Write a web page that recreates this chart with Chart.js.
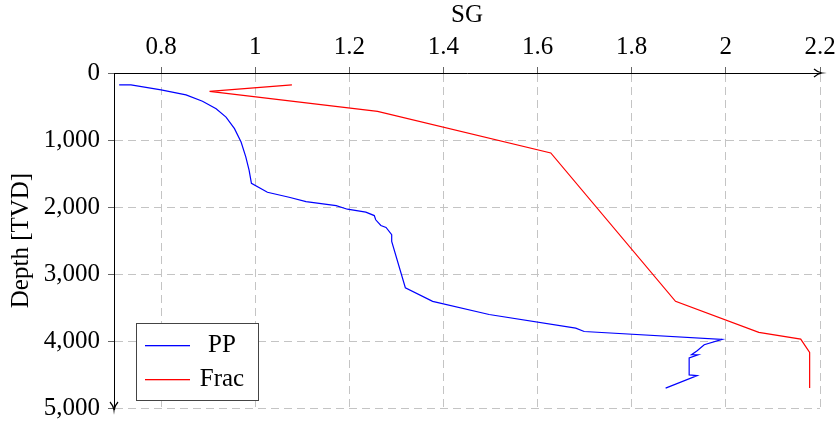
<!DOCTYPE html>
<html>
<head>
<meta charset="utf-8">
<script src="https://cdn.jsdelivr.net/npm/chart.js@4/dist/chart.umd.min.js"></script>
<style>
  html, body { margin: 0; padding: 0; background: #fff; }
  #wrap { width: 840px; height: 425px; }
</style>
</head>
<body>
<div id="wrap"><canvas id="myChart" width="840" height="425"></canvas></div>
<script>
// SG values and depths
const ppSG = [0.711, 0.736, 0.8, 0.853, 0.888, 0.917, 0.938, 0.956, 0.970, 0.980, 0.987, 0.992,
  1.026, 1.072, 1.108, 1.172, 1.196, 1.235, 1.253, 1.256, 1.267, 1.278, 1.290, 1.290,
  1.319, 1.377, 1.497, 1.681, 1.699, 1.992, 1.954, 1.939, 1.927, 1.941, 1.922, 1.922, 1.939, 1.872];
const ppDepth = [178, 178, 252, 326, 421, 534, 659, 831, 1030, 1252, 1450, 1647,
  1780, 1855, 1920, 1979, 2033, 2077, 2128, 2191, 2276, 2306, 2414, 2513,
  3205, 3408, 3605, 3809, 3858, 3976, 4056, 4145, 4205, 4205, 4254, 4506, 4516, 4703];

const fracSG = [1.078, 0.903, 1.260, 1.628, 1.893, 2.070, 2.159, 2.178, 2.178];
const fracDepth = [178, 273, 574, 1193, 3408, 3872, 3972, 4169, 4703];

const sgTicks = [0.8, 1, 1.2, 1.4, 1.6, 1.8, 2, 2.2];
const depthTicks = [0, 1000, 2000, 3000, 4000, 5000];

const seriesNames = ['PP', 'Frac'];
const seriesColors = ['#0000ff', '#ff0000'];

const FONT = "'Liberation Serif', 'DejaVu Serif', serif";
const FSIZE = 25;

function toPoints(xs, ys) {
  return xs.map((x, i) => ({ x: x, y: ys[i] }));
}

// arrow heads on the two drawn axes
const arrowPlugin = {
  id: 'arrows',
  afterDraw(chart) {
    const { ctx, chartArea: a } = chart;
    ctx.save();
    ctx.setLineDash([]);
    ctx.strokeStyle = '#000';
    ctx.lineWidth = 1.2;
    // right end of top axis
    ctx.beginPath();
    ctx.moveTo(a.right - 6, a.top - 4);
    ctx.quadraticCurveTo(a.right - 2, a.top - 0.5, a.right + 2, a.top);
    ctx.quadraticCurveTo(a.right - 2, a.top + 0.5, a.right - 6, a.top + 4);
    ctx.stroke();
    // bottom end of left axis
    ctx.beginPath();
    ctx.moveTo(a.left - 4, a.bottom - 6);
    ctx.quadraticCurveTo(a.left - 0.5, a.bottom - 2, a.left, a.bottom + 2);
    ctx.quadraticCurveTo(a.left + 0.5, a.bottom - 2, a.left + 4, a.bottom - 6);
    ctx.stroke();
    ctx.beginPath();
    ctx.moveTo(a.left + 0.5, a.bottom - 2);
    ctx.lineTo(a.left + 0.5, a.bottom + 2);
    ctx.stroke();
    ctx.restore();
  }
};

// boxed legend in the lower left of the plot
const boxLegend = {
  id: 'boxLegend',
  afterDraw(chart) {
    const { ctx, chartArea: a } = chart;
    const x0 = a.left + 22, y0 = a.bottom - 85;
    const w = 122, h = 77;
    ctx.save();
    ctx.setLineDash([]);
    ctx.fillStyle = '#fff';
    ctx.fillRect(x0, y0, w, h);
    ctx.strokeStyle = '#444';
    ctx.lineWidth = 1;
    ctx.strokeRect(x0 + 0.5, y0 + 0.5, w, h);
    ctx.font = FSIZE + 'px ' + FONT;
    ctx.textBaseline = 'middle';
    ctx.textAlign = 'center';
    seriesNames.forEach((name, i) => {
      const yy = y0 + 22 + i * 34;
      ctx.fillStyle = seriesColors[i];
      ctx.fillRect(x0 + 9, yy, 45, 1.3);
      ctx.fillStyle = '#000';
      ctx.fillText(name, x0 + 86, yy);
    });
    ctx.restore();
  }
};

const ctx = document.getElementById('myChart').getContext('2d');
new Chart(ctx, {
  type: 'scatter',
  data: {
    datasets: [
      { label: seriesNames[0], data: toPoints(ppSG, ppDepth), borderColor: seriesColors[0], backgroundColor: seriesColors[0] },
      { label: seriesNames[1], data: toPoints(fracSG, fracDepth), borderColor: seriesColors[1], backgroundColor: seriesColors[1] }
    ]
  },
  options: {
    responsive: false,
    animation: false,
    showLine: true,
    elements: {
      line: { borderWidth: 1.2, tension: 0 },
      point: { radius: 0, hoverRadius: 0 }
    },
    layout: { padding: { top: 0, left: 0, right: 20, bottom: 17 } },
    plugins: {
      legend: { display: false },
      tooltip: { enabled: false }
    },
    scales: {
      x: {
        type: 'linear',
        position: 'top',
        min: 0.7,
        max: 2.2,
        afterBuildTicks: s => { s.ticks = sgTicks.map(v => ({ value: v })); },
        afterFit: s => { s.height = 73; s.paddingLeft = 0; s.paddingRight = 0; },
        ticks: {
          color: '#000',
          font: { family: FONT, size: FSIZE },
          padding: 5,
          maxRotation: 0,
          callback: v => String(+v.toFixed(1))
        },
        grid: { color: '#c4c4c4', tickColor: '#666', tickLength: 6, lineWidth: 1 },
        border: { color: '#000', width: 1, dash: [8, 5] },
        title: { display: true, text: 'SG', color: '#000', font: { family: FONT, size: FSIZE }, padding: { top: 0, bottom: 0 } }
      },
      y: {
        type: 'linear',
        reverse: true,
        min: 0,
        max: 5000,
        afterBuildTicks: s => { s.ticks = depthTicks.map(v => ({ value: v })); },
        afterFit: s => { s.width = 114; s.paddingTop = 0; s.paddingBottom = 0; },
        ticks: {
          color: '#000',
          font: { family: FONT, size: FSIZE },
          padding: 8,
          callback: v => v.toLocaleString('en-US')
        },
        grid: { color: '#c4c4c4', tickColor: '#666', tickLength: 6, lineWidth: 1 },
        border: { color: '#000', width: 1, dash: [8, 5] },
        title: { display: true, text: 'Depth [TVD]', color: '#000', font: { family: FONT, size: FSIZE }, padding: { top: 6, bottom: 0 } }
      }
    }
  },
  plugins: [arrowPlugin, boxLegend]
});
</script>
</body>
</html>
